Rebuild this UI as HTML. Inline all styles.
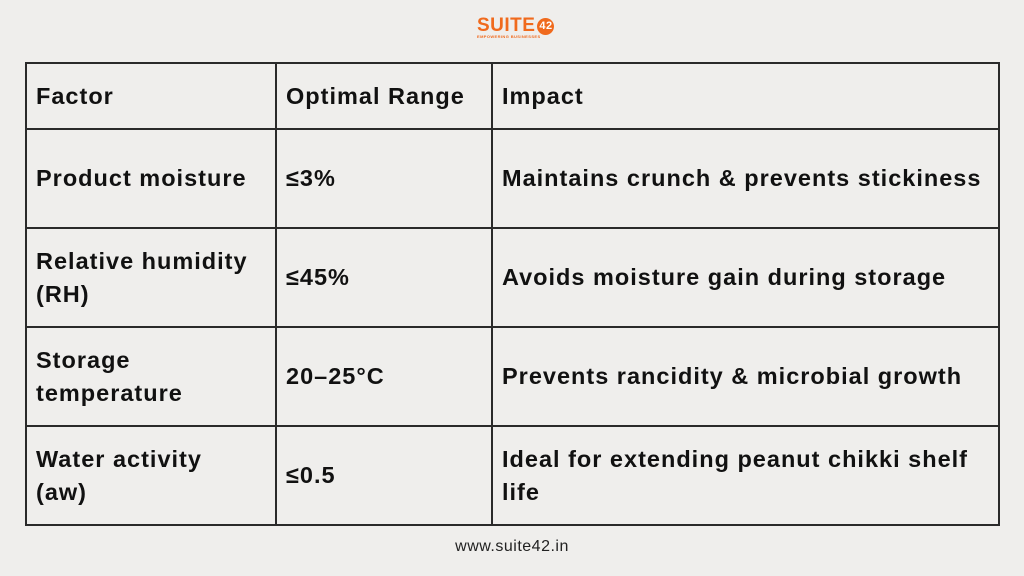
<!DOCTYPE html>
<html><head><meta charset="utf-8"><style>
body{margin:0;width:1024px;height:576px;background:#efeeec;position:relative;overflow:hidden;font-family:"Liberation Sans",sans-serif;}
table{position:absolute;left:25px;top:62px;width:975px;border-collapse:collapse;table-layout:fixed;}
td{border:2px solid #2a2a2a;font-weight:bold;font-size:23.5px;color:#111;padding:0 9px;line-height:33px;letter-spacing:1px;vertical-align:middle;white-space:nowrap;overflow:visible;}
.logo{position:absolute;left:477px;top:15px;font-weight:bold;font-size:19px;color:#f06a1d;letter-spacing:0.5px;}
.sub{position:absolute;left:477px;top:34px;font-size:4px;color:#f06a1d;letter-spacing:0.4px;font-weight:bold}
.foot{position:absolute;top:538px;left:0;width:1024px;text-align:center;font-size:16px;color:#222;letter-spacing:0.5px}
</style></head><body>
<div class="logo">SUITE<span style="display:inline-block;width:17px;height:17px;border-radius:50%;background:#f06a1d;color:#fff;font-size:11px;text-align:center;line-height:17px;vertical-align:2px;margin-left:2px">42</span></div>
<div class="sub">EMPOWERING BUSINESSES</div>
<table>
<colgroup><col style="width:250px"><col style="width:216px"><col></colgroup>
<tr style="height:66px"><td>Factor</td><td>Optimal Range</td><td>Impact</td></tr>
<tr style="height:99px"><td>Product moisture</td><td>≤3%</td><td>Maintains crunch &amp; prevents stickiness</td></tr>
<tr style="height:99px"><td>Relative humidity<br>(RH)</td><td>≤45%</td><td>Avoids moisture gain during storage</td></tr>
<tr style="height:99px"><td>Storage<br>temperature</td><td>20–25°C</td><td>Prevents rancidity &amp; microbial growth</td></tr>
<tr style="height:99px"><td>Water activity<br>(aw)</td><td>≤0.5</td><td>Ideal for extending peanut chikki shelf<br>life</td></tr>
</table>
<div class="foot">www.suite42.in</div>
</body></html>
